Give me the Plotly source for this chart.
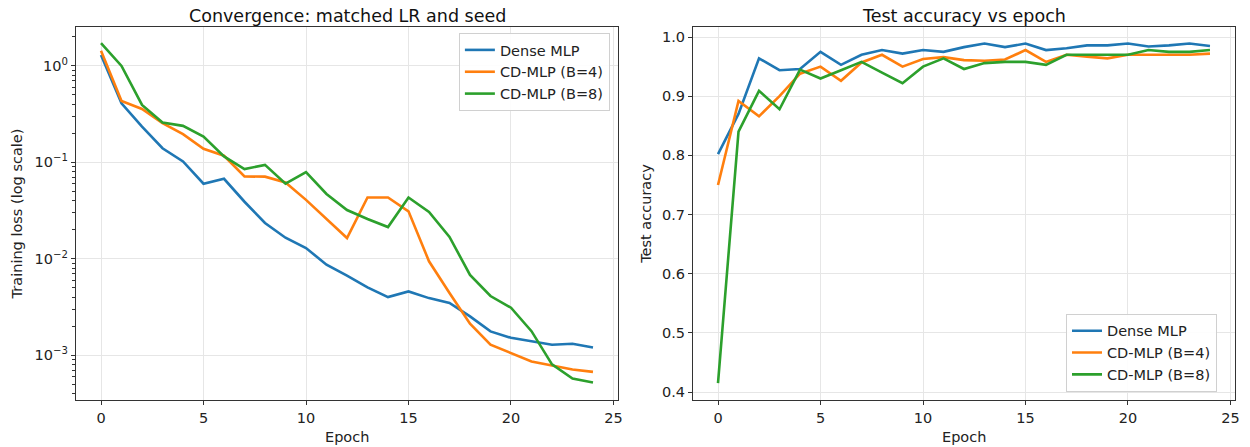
import plotly.graph_objects as go

epochs = list(range(25))

loss_dense = [1.30, 0.41, 0.235, 0.140, 0.102, 0.060, 0.0675, 0.039, 0.0235, 0.0165,
              0.0129, 0.00867, 0.00667, 0.00505, 0.0040, 0.00458, 0.0039, 0.00347, 0.00252, 0.00176,
              0.00151, 0.00139, 0.00128, 0.00131, 0.00120]
loss_cd4 = [1.44, 0.434, 0.358, 0.255, 0.196, 0.138, 0.117, 0.0713, 0.071, 0.0618,
            0.0408, 0.026, 0.0164, 0.0432, 0.0432, 0.031, 0.0094, 0.0044, 0.00212, 0.00128,
            0.00104, 0.00086, 0.00078, 0.00071, 0.00067]
loss_cd8 = [1.72, 1.0, 0.394, 0.259, 0.239, 0.185, 0.115, 0.085, 0.094, 0.060,
            0.079, 0.047, 0.032, 0.0258, 0.0213, 0.0432, 0.0305, 0.0168, 0.0068, 0.0041,
            0.0031, 0.00177, 0.0008, 0.00057, 0.00052]

acc_dense = [0.802, 0.870, 0.964, 0.944, 0.946, 0.975, 0.953, 0.970, 0.978, 0.972,
             0.978, 0.975, 0.983, 0.989, 0.983, 0.989, 0.978, 0.981, 0.986, 0.986,
             0.989, 0.984, 0.986, 0.989, 0.985]
acc_cd4 = [0.750, 0.892, 0.866, 0.900, 0.938, 0.950, 0.926, 0.957, 0.970, 0.950,
           0.963, 0.966, 0.961, 0.960, 0.962, 0.978, 0.958, 0.970, 0.967, 0.964,
           0.970, 0.970, 0.970, 0.970, 0.972]
acc_cd8 = [0.415, 0.840, 0.909, 0.878, 0.945, 0.930, 0.944, 0.958, 0.940, 0.922,
           0.950, 0.964, 0.946, 0.956, 0.958, 0.958, 0.953, 0.970, 0.970, 0.970,
           0.970, 0.978, 0.975, 0.975, 0.978]

names = ["Dense MLP", "CD-MLP (B=4)", "CD-MLP (B=8)"]
colors = ["#1f77b4", "#ff7f0e", "#2ca02c"]

x_ticks = [0, 5, 10, 15, 20, 25]
loss_tickvals = [1, 0.1, 0.01, 0.001]
loss_ticktext = ["10<sup>0</sup>", "10<sup>\u22121</sup>", "10<sup>\u22122</sup>", "10<sup>\u22123</sup>"]
acc_ticks = [0.4, 0.5, 0.6, 0.7, 0.8, 0.9, 1.0]

FONT = "DejaVu Sans"
TXT = "#222222"
FS = 14.5
fig = go.Figure()

for ys, n, c in zip([loss_dense, loss_cd4, loss_cd8], names, colors):
    fig.add_trace(go.Scatter(x=epochs, y=ys, name=n, mode="lines",
                             line=dict(color=c, width=2.6),
                             xaxis="x", yaxis="y", legend="legend"))
for ys, n, c in zip([acc_dense, acc_cd4, acc_cd8], names, colors):
    fig.add_trace(go.Scatter(x=epochs, y=ys, name=n, mode="lines",
                             line=dict(color=c, width=2.6),
                             xaxis="x2", yaxis="y2", legend="legend2"))

# page has an 8px body margin; figure is sized/offset to compensate
OFF = 8
W, H = 1250 - OFF, 447 - OFF
ml, mt = 76 - OFF, 27 - OFF
mr = W - (1235 - OFF)
mb = H - (400 - OFF)
pw = W - ml - mr
d1 = [0, (618 - 76) / pw]
d2 = [(693 - 76) / pw, 1]

axis_common = dict(showline=True, linecolor="#333333", linewidth=1.2, mirror=True,
                   ticks="outside", ticklen=4, tickwidth=1, tickcolor="#333333",
                   showgrid=True, gridcolor="#e6e6e6", gridwidth=1, zeroline=False,
                   automargin=False,
                   tickfont=dict(family=FONT, size=FS, color=TXT))

fig.update_layout(
    width=W, height=H,
    margin=dict(l=ml, r=mr, t=mt, b=mb),
    paper_bgcolor="white", plot_bgcolor="white",
    font=dict(family=FONT, size=FS, color=TXT),
    xaxis=dict(domain=d1, range=[-1.22, 25.22], tickvals=x_ticks, anchor="y", **axis_common),
    yaxis=dict(type="log", range=[-3.466, 0.404], tickvals=loss_tickvals, ticktext=loss_ticktext,
               anchor="x",
               minor=dict(dtick="D1", ticks="outside", ticklen=2.5, tickcolor="#333333", showgrid=False),
               title=dict(text="Training loss (log scale)", font=dict(family=FONT, size=FS), standoff=8),
               **axis_common),
    xaxis2=dict(domain=d2, range=[-1.22, 25.22], tickvals=x_ticks, anchor="y2", **axis_common),
    yaxis2=dict(range=[0.3865, 1.017], tickvals=acc_ticks, tickformat=".1f", anchor="x2",
                title=dict(text="Test accuracy", font=dict(family=FONT, size=FS), standoff=6),
                **axis_common),
    legend=dict(x=d1[1] - 0.007, y=0.984, xanchor="right", yanchor="top",
                bgcolor="rgba(255,255,255,0.9)", bordercolor="#d0d0d0", borderwidth=1,
                font=dict(family=FONT, size=FS, color=TXT), tracegroupgap=0),
    legend2=dict(x=(1066 - 76) / pw, y=0.022, xanchor="left", yanchor="bottom",
                 bgcolor="rgba(255,255,255,0.9)", bordercolor="#d0d0d0", borderwidth=1,
                 font=dict(family=FONT, size=FS, color=TXT), tracegroupgap=0),
    annotations=[
        dict(text="Convergence: matched LR and seed", x=(d1[0] + d1[1]) / 2, y=1, xref="paper",
             yref="paper", xanchor="center", yanchor="bottom", yshift=-1.5, showarrow=False,
             font=dict(family=FONT, size=17.5, color="#111111")),
        dict(text="Test accuracy vs epoch", x=(d2[0] + d2[1]) / 2, y=1, xref="paper",
             yref="paper", xanchor="center", yanchor="bottom", yshift=-1.5, showarrow=False,
             font=dict(family=FONT, size=17.5, color="#111111")),
        dict(text="Epoch", x=(d1[0] + d1[1]) / 2, y=0, xref="paper", yref="paper",
             xanchor="center", yanchor="middle", yshift=-37, showarrow=False,
             font=dict(family=FONT, size=FS, color=TXT)),
        dict(text="Epoch", x=(d2[0] + d2[1]) / 2, y=0, xref="paper", yref="paper",
             xanchor="center", yanchor="middle", yshift=-37, showarrow=False,
             font=dict(family=FONT, size=FS, color=TXT)),
    ],
)

fig.write_html("out.html")
